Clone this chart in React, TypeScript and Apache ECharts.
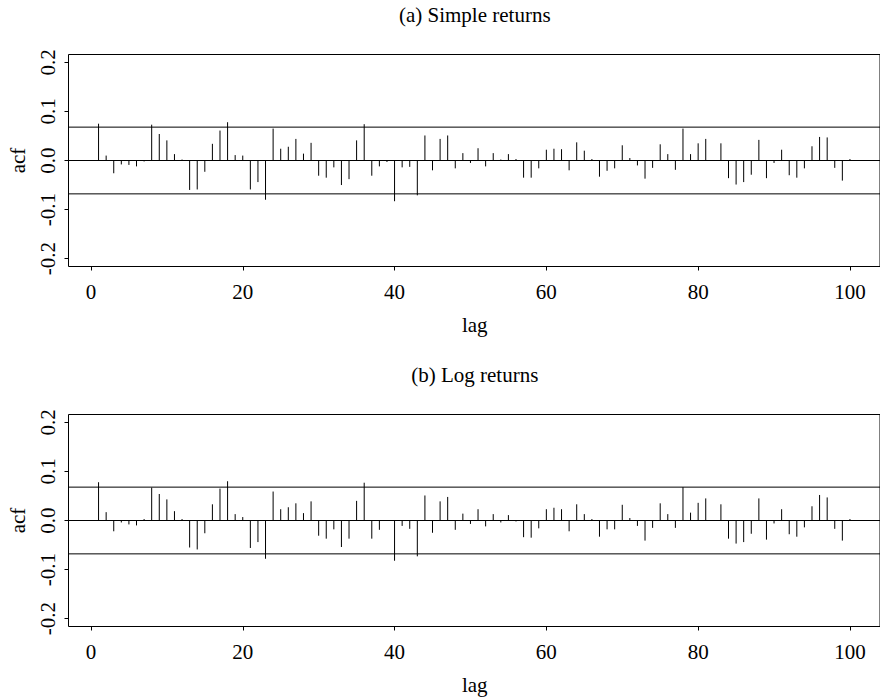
import React, { useEffect, useRef } from "react";
import * as echarts from "echarts";

const xTicks = [0, 20, 40, 60, 80, 100];
const yTicks = [-0.2, -0.1, 0, 0.1, 0.2];
const yTickLabels = ["-0.2", "-0.1", "0.0", "0.1", "0.2"];
const confBound = 0.068;
const titleA = "(a) Simple returns";
const titleB = "(b) Log returns";

const acfSimple = [
  0.075, 0.010, -0.026, -0.008, -0.009, -0.012, -0.002, 0.073, 0.054, 0.041,
  0.013, 0.002, -0.060, -0.059, -0.023, 0.034, 0.061, 0.078, 0.011, 0.010,
  -0.059, -0.044, -0.080, 0.065, 0.024, 0.028, 0.044, 0.014, 0.036, -0.031,
  -0.035, -0.014, -0.050, -0.038, 0.041, 0.074, -0.031, -0.012, -0.003, -0.083,
  -0.014, -0.013, -0.071, 0.051, -0.020, 0.044, 0.051, -0.016, 0.015, -0.005,
  0.025, -0.012, 0.015, 0.002, 0.013, 0.003, -0.035, -0.035, -0.016, 0.022,
  0.024, 0.023, -0.020, 0.037, 0.020, 0.003, -0.033, -0.021, -0.016, 0.031,
  0.005, -0.010, -0.037, -0.015, 0.033, 0.013, -0.019, 0.065, 0.013, 0.035,
  0.044, 0.001, 0.035, -0.036, -0.049, -0.044, -0.029, 0.042, -0.036, -0.005,
  0.022, -0.030, -0.035, -0.016, 0.029, 0.048, 0.047, -0.015, -0.041, 0.003,
];

const acfLog = [
  0.078, 0.017, -0.022, -0.004, -0.008, -0.010, 0.003, 0.067, 0.054, 0.043,
  0.019, 0.003, -0.055, -0.059, -0.026, 0.033, 0.065, 0.080, 0.013, 0.007,
  -0.056, -0.044, -0.078, 0.059, 0.023, 0.027, 0.035, 0.015, 0.039, -0.031,
  -0.037, -0.018, -0.054, -0.037, 0.040, 0.077, -0.037, -0.019, -0.001, -0.082,
  -0.011, -0.017, -0.073, 0.051, -0.025, 0.039, 0.048, -0.019, 0.014, -0.007,
  0.023, -0.012, 0.013, -0.004, 0.011, -0.002, -0.034, -0.035, -0.016, 0.023,
  0.026, 0.023, -0.022, 0.033, 0.013, 0.003, -0.033, -0.018, -0.018, 0.032,
  0.005, -0.011, -0.041, -0.015, 0.035, 0.013, -0.015, 0.068, 0.016, 0.036,
  0.045, -0.001, 0.033, -0.037, -0.047, -0.044, -0.027, 0.045, -0.039, -0.006,
  0.023, -0.028, -0.033, -0.014, 0.029, 0.052, 0.047, -0.017, -0.041, 0.003,
];

const X_MIN = -2.96;
const X_MAX = 103.96;
const Y_LIM = 0.216;
const FONT = "'Liberation Serif', 'Times New Roman', serif";
const FS = 21;

export default function App() {
  const ref = useRef<HTMLDivElement>(null);
  useEffect(() => {
    if (!ref.current) return;
    const chart = echarts.init(ref.current, null, { renderer: "svg" });
    const panels = [
      { top: 54.5, data: acfSimple, title: titleA },
      { top: 414.5, data: acfLog, title: titleB },
    ];
    const H = 212;
    const grids: any[] = [];
    const xAxes: any[] = [];
    const yAxes: any[] = [];
    const series: any[] = [];
    const graphics: any[] = [];
    panels.forEach((p, i) => {
      grids.push({
        left: 68.5,
        top: p.top,
        width: 812.5,
        height: H,
        show: true,
        borderColor: "#000",
        borderWidth: 1,
        backgroundColor: "transparent",
      });
      xAxes.push({
        type: "value",
        gridIndex: i,
        position: "bottom",
        min: X_MIN,
        max: X_MAX,
        splitLine: { show: false },
        axisLine: { show: false, onZero: false },
        axisTick: {
          show: true,
          length: 4,
          customValues: xTicks,
          lineStyle: { color: "#000", width: 1 },
        },
        axisLabel: {
          customValues: xTicks,
          color: "#000",
          fontFamily: FONT,
          fontSize: FS,
          margin: 15,
        },
      });
      yAxes.push({
        type: "value",
        gridIndex: i,
        position: "left",
        min: -Y_LIM,
        max: Y_LIM,
        splitLine: { show: false },
        axisLine: { show: false, onZero: false },
        axisTick: {
          show: true,
          length: 4,
          customValues: yTicks,
          lineStyle: { color: "#000", width: 1 },
        },
        axisLabel: {
          customValues: yTicks,
          rotate: 90,
          color: "#000",
          fontFamily: FONT,
          fontSize: FS,
          margin: 10,
          formatter: (v: number) => {
            const idx = yTicks.findIndex((t) => Math.abs(t - v) < 1e-9);
            return idx >= 0 ? yTickLabels[idx] : "";
          },
        },
      });
      series.push({
        type: "custom",
        xAxisIndex: i,
        yAxisIndex: i,
        data: p.data.map((v, k) => [k + 1, v]),
        encode: { x: 0, y: 1 },
        renderItem: (params: any, api: any) => {
          const x = api.value(0);
          const y = api.value(1);
          const a = api.coord([x, 0]);
          const b = api.coord([x, y]);
          return {
            type: "line",
            shape: { x1: a[0], y1: a[1], x2: b[0], y2: b[1] },
            style: { stroke: "#000", lineWidth: 1 },
          };
        },
      });
      series.push({
        type: "custom",
        xAxisIndex: i,
        yAxisIndex: i,
        data: [[confBound], [0], [-confBound]],
        encode: { y: 0 },
        renderItem: (params: any, api: any) => {
          const y = api.value(0);
          const a = api.coord([X_MIN, y]);
          const b = api.coord([X_MAX, y]);
          return {
            type: "line",
            shape: { x1: a[0], y1: a[1], x2: b[0], y2: b[1] },
            style: { stroke: "#000", lineWidth: 1 },
          };
        },
      });
      const cx = 68.5 + 812.5 / 2;
      graphics.push({
        type: "text",
        x: cx,
        y: p.top - 40,
        style: {
          text: p.title,
          fill: "#000",
          font: `${FS}px ${FONT}`,
          align: "center",
          verticalAlign: "middle",
        },
      });
      graphics.push({
        type: "text",
        x: cx,
        y: p.top + H + 58,
        style: {
          text: "lag",
          fill: "#000",
          font: `${FS}px ${FONT}`,
          align: "center",
          verticalAlign: "middle",
        },
      });
      graphics.push({
        type: "text",
        x: 18,
        y: p.top + H / 2,
        rotation: Math.PI / 2,
        style: {
          text: "acf",
          fill: "#000",
          font: `${FS}px ${FONT}`,
          align: "center",
          verticalAlign: "middle",
        },
      });
    });
    chart.setOption({
      animation: false,
      backgroundColor: "#fff",
      grid: grids,
      xAxis: xAxes,
      yAxis: yAxes,
      series,
      graphic: graphics,
    });
    return () => chart.dispose();
  }, []);
  return (
    <div
      ref={ref}
      style={{ position: "absolute", left: 0, top: 0, width: 880, height: 697 }}
    />
  );
}
